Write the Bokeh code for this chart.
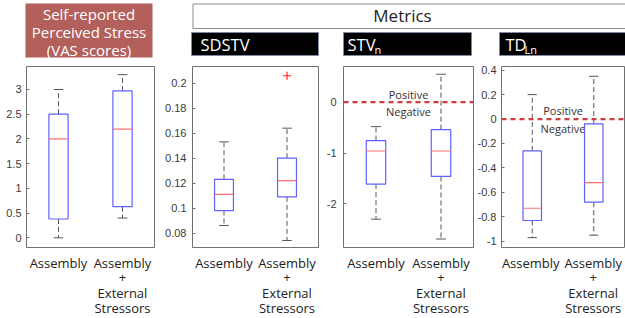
from bokeh.plotting import figure
from bokeh.layouts import column, row
from bokeh.models import Range1d, FixedTicker, Span
from bokeh.core.properties import value
from bokeh.embed import file_html
from bokeh.resources import INLINE

# ---------------- data ----------------
categories = ["Assembly", "Assembly\n+\nExternal\nStressors"]
positions = [1, 2]

vas_lower = [0.0, 0.40]
vas_q1 = [0.38, 0.63]
vas_median = [2.0, 2.2]
vas_q3 = [2.5, 2.97]
vas_upper = [3.0, 3.3]
vas_ticks = [0, 0.5, 1, 1.5, 2, 2.5, 3]
vas_tick_labels = ["0", "0.5", "1", "1.5", "2", "2.5", "3"]

sdstv_lower = [0.086, 0.074]
sdstv_q1 = [0.098, 0.109]
sdstv_median = [0.111, 0.122]
sdstv_q3 = [0.123, 0.140]
sdstv_upper = [0.153, 0.164]
sdstv_outlier_x = [2]
sdstv_outlier_y = [0.206]
sdstv_ticks = [0.08, 0.1, 0.12, 0.14, 0.16, 0.18, 0.2]
sdstv_tick_labels = ["0.08", "0.1", "0.12", "0.14", "0.16", "0.18", "0.2"]

stvn_lower = [-2.30, -2.69]
stvn_q1 = [-1.61, -1.46]
stvn_median = [-0.96, -0.96]
stvn_q3 = [-0.755, -0.54]
stvn_upper = [-0.48, 0.55]
stvn_ticks = [-2, -1, 0]
stvn_tick_labels = ["-2", "-1", "0"]

tdln_lower = [-0.97, -0.95]
tdln_q1 = [-0.83, -0.68]
tdln_median = [-0.73, -0.52]
tdln_q3 = [-0.26, -0.04]
tdln_upper = [0.20, 0.35]
tdln_ticks = [0.4, 0.2, 0, -0.2, -0.4, -0.6, -0.8, -1]
tdln_tick_labels = ["0.4", "0.2", "0", "-0.2", "-0.4", "-0.6", "-0.8", "-1"]

# ---------------- style ----------------
BOX_W = 0.30
CAP_W = 0.15
BOX_COLOR = "#6060ff"
MED_COLOR = "#ff6f6f"
WHISK_COLOR = "#555555"
HEAD_FONT = "Open Sans"
TICK_FONT = "Liberation Sans"
HEAD_H = 60
PANEL_H = 188
STRIP_H = 70
LINE_STEP = 15.3


def panel(width, left, right, top, yr, ticks, tick_labels,
          lower, q1, med, q3, upper, zero_line=False,
          out_x=None, out_y=None, standoff=5, pos_off=-8, neg_off=9.5):
    xr = Range1d(0.5, 2.5)
    p = figure(width=width, height=PANEL_H, x_range=xr,
               y_range=Range1d(*yr), min_border_left=left,
               min_border_right=right, min_border_top=top,
               min_border_bottom=1, x_axis_location=None,
               toolbar_location=None, output_backend="svg")
    p.grid.visible = False
    p.outline_line_color = "#707070"
    p.outline_line_width = 1
    p.background_fill_color = "white"
    p.border_fill_color = "white"

    ya = p.yaxis[0]
    ya.ticker = FixedTicker(ticks=ticks)
    ya.major_label_overrides = dict(zip(ticks, tick_labels))
    ya.axis_line_color = None
    ya.major_tick_in = 3
    ya.major_tick_out = 0
    ya.major_tick_line_color = "#707070"
    ya.minor_tick_line_color = None
    ya.major_label_text_font = TICK_FONT
    ya.major_label_text_font_size = "11px"
    ya.major_label_text_color = "#3a3a3a"
    ya.major_label_standoff = standoff

    if zero_line:
        p.add_layout(Span(location=0, dimension="width", line_color="#d23c3c",
                          line_width=2.2, line_dash="5 4"))
        p.text(x=[1.5, 1.5], y=[0, 0], text=["Positive", "Negative"],
               y_offset=[pos_off, neg_off], text_align="center",
               text_baseline="middle", text_font=value(HEAD_FONT),
               text_font_size="11px", text_color="#333333")

    lefts = [x - BOX_W / 2 for x in positions]
    rights = [x + BOX_W / 2 for x in positions]
    cl = [x - CAP_W / 2 for x in positions]
    cr = [x + CAP_W / 2 for x in positions]

    # whiskers
    p.segment(x0=positions, y0=q3, x1=positions, y1=upper,
              line_color=WHISK_COLOR, line_dash="5 3", line_width=1)
    p.segment(x0=positions, y0=q1, x1=positions, y1=lower,
              line_color=WHISK_COLOR, line_dash="5 3", line_width=1)
    # caps
    p.segment(x0=cl, y0=upper, x1=cr, y1=upper, line_color=WHISK_COLOR, line_width=1)
    p.segment(x0=cl, y0=lower, x1=cr, y1=lower, line_color=WHISK_COLOR, line_width=1)
    # boxes
    p.quad(left=lefts, right=rights, top=q3, bottom=q1, fill_color=None,
           line_color=BOX_COLOR, line_width=1.2)
    # medians
    p.segment(x0=lefts, y0=med, x1=rights, y1=med, line_color=MED_COLOR,
              line_width=1.2)
    if out_x is not None:
        p.scatter(x=out_x, y=out_y, marker="cross", size=8,
                  line_color="#ff2020", line_width=1.2)

    # category label strip sharing the same x scale
    s = figure(width=width, height=STRIP_H, x_range=xr,
               y_range=Range1d(STRIP_H, 0), min_border_left=left,
               min_border_right=right, min_border_top=0, min_border_bottom=0,
               x_axis_location=None, y_axis_location=None,
               toolbar_location=None, output_backend="svg")
    s.grid.visible = False
    s.outline_line_color = None
    lx, ly, lt = [], [], []
    for pos, cat in zip(positions, categories):
        for i, line in enumerate(cat.split("\n")):
            lx.append(pos)
            ly.append(14 + i * LINE_STEP)
            lt.append(line)
    s.text(x=lx, y=ly, text=lt, text_align="center", text_baseline="middle",
           text_font=value(HEAD_FONT), text_font_size="13px",
           text_color="#222222")
    return p, s


p1, s1 = panel(160, 26, 6, 6, (-0.196, 3.465), vas_ticks, vas_tick_labels,
               vas_lower, vas_q1, vas_median, vas_q3, vas_upper)
p2, s2 = panel(160, 32, 2, 3, (0.0684, 0.2134), sdstv_ticks, sdstv_tick_labels,
               sdstv_lower, sdstv_q1, sdstv_median, sdstv_q3, sdstv_upper,
               out_x=sdstv_outlier_x, out_y=sdstv_outlier_y, standoff=6)
p3, s3 = panel(154, 23, 1, 3, (-2.857, 0.702), stvn_ticks, stvn_tick_labels,
               stvn_lower, stvn_q1, stvn_median, stvn_q3, stvn_upper,
               zero_line=True, standoff=7, pos_off=-7.5, neg_off=9.5)
p4, s4 = panel(151, 25, 1, 3, (-1.051, 0.43), tdln_ticks, tdln_tick_labels,
               tdln_lower, tdln_q1, tdln_median, tdln_q3, tdln_upper,
               zero_line=True, standoff=5, pos_off=-8.5, neg_off=9)

# ---------------- header ----------------
h = figure(width=625, height=HEAD_H, x_range=Range1d(0, 625),
           y_range=Range1d(HEAD_H, 0), min_border=0, toolbar_location=None,
           output_backend="svg")
h.axis.visible = False
h.grid.visible = False
h.outline_line_color = None

h.quad(left=[25], right=[152], top=[3], bottom=[57], fill_color="#b3605c",
       line_color=None)
h.text(x=[88.5], y=[31], text=["Self-reported\nPerceived Stress\n(VAS scores)"],
       text_align="center", text_baseline="middle", text_font=value(HEAD_FONT),
       text_font_size="15px", text_color="white", text_line_height=0.9)

h.quad(left=[192.5], right=[627], top=[3.5], bottom=[28], fill_color="white",
       line_color="#8a8a8a", line_width=1)
h.text(x=[402], y=[15], text=["Metrics"], text_align="center",
       text_baseline="middle", text_font=value(HEAD_FONT),
       text_font_size="17px", text_color="#222222")

h.quad(left=[191, 343, 499], right=[318, 471, 627], top=[32, 32, 32],
       bottom=[55, 55, 55], fill_color="black", line_color="#7d8aa8",
       line_width=0.8)
h.text(x=[200, 347, 505], y=[43.5, 43.5, 43.5], text=["SDSTV", "STV", "TD"],
       text_align="left", text_baseline="middle", text_font=value(HEAD_FONT),
       text_font_size="16.5px", text_color="white")
h.text(x=[374, 524], y=[48.5, 48.5], text=["n", "Ln"], text_align="left",
       text_baseline="middle", text_font=value(HEAD_FONT),
       text_font_size="11px", text_color="white")

layout = column(h, row(p1, p2, p3, p4), row(s1, s2, s3, s4))

open("out.html", "w").write(file_html(layout, INLINE))
